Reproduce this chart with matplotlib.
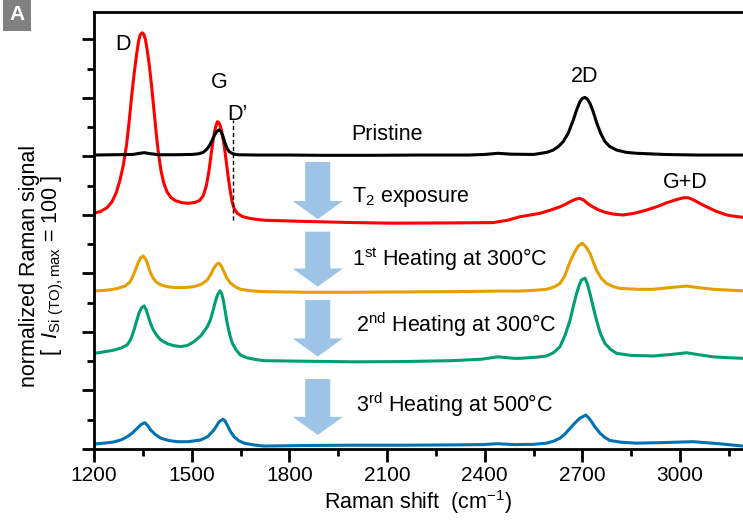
import numpy as np
import matplotlib.pyplot as plt
from matplotlib.patches import FancyArrow

plt.rcParams['font.family'] = ['Liberation Sans', 'DejaVu Sans']
plt.rcParams['mathtext.fontset'] = 'custom'
plt.rcParams['mathtext.rm'] = 'Liberation Sans'
plt.rcParams['mathtext.it'] = 'Liberation Sans:italic'
plt.rcParams['mathtext.bf'] = 'Liberation Sans:bold'

# 数据 (Raman shift, 归一化信号 + 偏移)
x_black = [1200, 1260, 1320, 1340, 1355, 1370, 1400, 1450, 1500, 1520, 1535, 1545, 1555, 1563, 1570, 1577,
           1584, 1590, 1596, 1602, 1608, 1615, 1625, 1640, 1700, 1800, 1900, 2050, 2200, 2350, 2400,
           2440, 2480, 2550, 2590, 2610, 2626, 2641, 2656, 2672, 2682, 2692, 2700, 2708, 2715, 2723,
           2733, 2744, 2756, 2769, 2784, 2805, 2835, 2866, 2950, 3050, 3193]
y_black = [100.5, 100.6, 100.7, 101.1, 101.3, 101.0, 100.6, 100.6, 100.7, 100.9, 101.4, 102.3, 103.8, 105.6, 107.3, 108.6,
           109.1, 108.5, 106.9, 104.7, 102.9, 101.7, 101.0, 100.6, 100.5, 100.5, 100.4, 100.4, 100.5, 100.5, 100.7,
           101.1, 100.8, 100.7, 101.4, 102.2, 103.4, 105.1, 107.9, 112.5, 115.9, 118.7, 119.9, 120.2, 119.6, 118.2,
           115.3, 111.4, 107.9, 105.1, 103.4, 102.2, 101.4, 101.1, 100.7, 100.5, 100.5]

x_red = [1200, 1220, 1240, 1255, 1268, 1280, 1290, 1300, 1308, 1316, 1324, 1331, 1337, 1342, 1348, 1353,
         1358, 1364, 1370, 1377, 1384, 1391, 1398, 1406, 1414, 1424, 1436, 1450, 1470, 1490, 1510, 1525,
         1535, 1545, 1553, 1560, 1567, 1573, 1579, 1584, 1589, 1594, 1600, 1606, 1612, 1618, 1624, 1630,
         1640, 1655, 1680, 1722, 1850, 2000, 2119, 2300, 2425, 2470, 2508, 2540, 2570, 2600, 2631, 2650,
         2665, 2680, 2692, 2705, 2715, 2730, 2750, 2770, 2795, 2825, 2860, 2897, 2930, 2959, 2990, 3010,
         3025, 3040, 3060, 3081, 3110, 3143, 3170, 3193]
y_red = [80.6, 81.2, 82.5, 84.5, 87.5, 92.0, 97.0, 104.0, 112.0, 121.0, 129.0, 135.0, 139.5, 141.6, 142.3, 141.8,
         140.0, 136.0, 131.0, 124.0, 116.0, 108.0, 101.0, 95.0, 91.0, 88.0, 86.0, 84.9, 84.2, 84.0, 84.3, 85.0,
         86.5, 90.0, 95.0, 101.0, 106.5, 110.0, 111.9, 111.5, 110.0, 107.5, 103.5, 98.5, 93.0, 88.5, 84.5, 82.3,
         80.6, 79.5, 78.8, 78.2, 77.8, 77.4, 77.2, 77.3, 77.4, 78.2, 79.4, 80.0, 80.6, 81.6, 82.8, 83.8,
         84.7, 85.4, 85.7, 85.0, 84.0, 82.9, 81.7, 80.9, 80.3, 80.0, 80.6, 81.7, 82.9, 84.2, 85.3, 85.9,
         85.9, 85.2, 84.0, 82.8, 81.3, 80.0, 79.5, 79.2]

x_orange = [1200, 1240, 1270, 1295, 1310, 1320, 1328, 1335, 1342, 1351, 1358, 1364, 1371, 1379, 1390, 1405,
            1425, 1446, 1480, 1507, 1530, 1548, 1560, 1568, 1577, 1584, 1591, 1599, 1608, 1620, 1635, 1650,
            1680, 1722, 1850, 2000, 2150, 2300, 2450, 2508, 2560, 2590, 2615, 2631, 2645, 2656, 2667, 2677,
            2688, 2700, 2710, 2723, 2733, 2743, 2757, 2774, 2795, 2815, 2870, 2917, 2970, 3020, 3060, 3102,
            3150, 3193]
y_orange = [54.0, 54.3, 54.8, 55.7, 57.0, 59.2, 61.5, 63.5, 65.2, 66.0, 65.0, 63.5, 61.0, 58.9, 57.2, 56.1,
            55.5, 55.2, 55.2, 55.5, 56.3, 57.8, 60.0, 61.8, 63.2, 63.5, 62.5, 60.6, 58.4, 56.6, 55.4, 54.6,
            54.1, 53.8, 53.6, 53.6, 53.7, 53.8, 54.0, 54.0, 54.3, 54.6, 55.5, 56.6, 59.0, 62.3, 65.3, 67.5,
            69.5, 70.3, 69.2, 66.9, 64.0, 61.2, 58.5, 56.6, 55.5, 54.9, 54.6, 54.6, 55.2, 55.7, 55.1, 54.6,
            54.3, 54.1]

x_green = [1200, 1230, 1261, 1285, 1302, 1313, 1323, 1331, 1338, 1346, 1354, 1360, 1367, 1374, 1382, 1393,
           1405, 1425, 1446, 1466, 1487, 1507, 1528, 1548, 1558, 1566, 1573, 1579, 1587, 1592, 1597, 1603,
           1609, 1617, 1625, 1637, 1650, 1670, 1691, 1722, 1850, 2000, 2150, 2300, 2390, 2440, 2490, 2508,
           2560, 2590, 2612, 2631, 2647, 2662, 2672, 2682, 2690, 2697, 2708, 2715, 2723, 2733, 2743, 2755,
           2769, 2787, 2805, 2850, 2917, 2970, 3020, 3060, 3102, 3150, 3193]
y_green = [32.7, 33.2, 33.8, 34.6, 35.6, 37.5, 40.7, 43.8, 46.4, 48.3, 48.9, 47.6, 45.2, 42.8, 40.7, 38.8,
           37.3, 36.0, 35.3, 35.0, 35.4, 36.7, 38.7, 41.8, 44.3, 47.5, 50.5, 52.6, 54.1, 53.2, 50.9, 47.0,
           43.0, 39.0, 36.1, 33.8, 32.1, 31.2, 30.7, 30.2, 30.0, 29.8, 29.9, 30.2, 30.7, 31.5, 31.0, 31.0,
           31.4, 31.8, 33.0, 35.0, 39.0, 44.1, 48.8, 53.2, 56.0, 57.8, 58.4, 56.5, 53.2, 48.5, 44.1, 39.5,
           36.1, 34.0, 32.7, 32.0, 31.8, 32.3, 32.9, 32.2, 31.5, 31.2, 31.0]

x_blue = [1200, 1230, 1261, 1285, 1302, 1318, 1333, 1345, 1356, 1365, 1374, 1388, 1405, 1430, 1456, 1490,
          1528, 1550, 1568, 1577, 1584, 1596, 1603, 1609, 1619, 1630, 1645, 1661, 1690, 1722, 1850, 2000,
          2150, 2300, 2390, 2440, 2490, 2550, 2590, 2612, 2631, 2647, 2662, 2677, 2692, 2710, 2719, 2728, 2740,
          2754, 2768, 2784, 2820, 2866, 2950, 3040, 3120, 3193]
y_blue = [1.7, 2.0, 2.4, 3.2, 4.2, 5.5, 7.1, 8.4, 9.0, 8.0, 6.5, 5.0, 3.7, 2.9, 2.5, 2.5,
          3.1, 4.3, 6.5, 8.0, 9.3, 10.2, 9.5, 8.2, 6.0, 4.2, 2.8, 2.0, 1.4, 1.0, 1.2, 1.3,
          1.3, 1.4, 1.5, 1.8, 1.5, 1.6, 2.0, 2.7, 3.7, 5.2, 7.1, 8.9, 10.5, 11.6, 10.7, 9.3, 7.3,
          5.4, 4.0, 2.9, 2.3, 2.0, 2.2, 2.5, 1.8, 1.0]

x_ticks = [1200, 1500, 1800, 2100, 2400, 2700, 3000]


def plot_spectra():
    fig = plt.figure(figsize=(7.43, 5.24), dpi=100)
    ax = fig.add_axes([94 / 743, 75 / 524, 649 / 743, 437 / 524])

    lw = 2.2
    ax.plot(x_black, y_black, color='black', lw=lw, zorder=3)
    ax.plot(x_red, y_red, color='#FF0000', lw=lw, zorder=2)
    ax.plot(x_orange, y_orange, color='#E69F00', lw=lw)
    ax.plot(x_green, y_green, color='#009E73', lw=lw)
    ax.plot(x_blue, y_blue, color='#0072B2', lw=lw)

    # D' 虚线
    ax.plot([1627, 1627], [78.3, 112.5], color='black', lw=1.0, ls=(0, (3, 2)))

    # 箭头
    arrows = [(98.1, 78.6), (74.3, 55.5), (50.9, 31.6), (23.9, 4.8)]
    for y0, y1 in arrows:
        ax.add_patch(FancyArrow(1887, y0, 0, y1 - y0, width=77, head_width=154,
                                head_length=6.2, length_includes_head=True,
                                color='#9DC3E6', lw=0, zorder=1))

    fs = 15.5
    ax.text(1289, 136.4, 'D', fontsize=fs, ha='center', va='baseline')
    ax.text(1584, 123.4, 'G', fontsize=fs, ha='center', va='baseline')
    ax.text(1639, 112.5, 'D\u2019', fontsize=fs, ha='center', va='baseline')
    ax.text(2708, 125.6, '2D', fontsize=fs, ha='center', va='baseline')
    ax.text(3015, 89.1, 'G+D', fontsize=fs, ha='center', va='baseline')
    ax.text(1991, 105.6, 'Pristine', fontsize=fs, ha='left', va='baseline')
    ax.text(1991, 84.5, r'T$_2$ exposure', fontsize=fs, ha='left', va='baseline')
    ax.text(1991, 62.6, r'1$^{\rm st}$ Heating at 300°C', fontsize=fs, ha='left', va='baseline')
    ax.text(2004, 40.1, r'2$^{\rm nd}$ Heating at 300°C', fontsize=fs, ha='left', va='baseline')
    ax.text(2004, 12.8, r'3$^{\rm rd}$ Heating at 500°C', fontsize=fs, ha='left', va='baseline')

    ax.set_xlim(1200, 3193)
    ax.set_ylim(0, 149.4)
    ax.set_xticks(x_ticks)
    ax.set_xticks(np.arange(1350, 3200, 300), minor=True)
    ax.set_yticks(np.arange(0, 141, 20))
    ax.set_yticks(np.arange(10, 141, 20), minor=True)
    ax.set_yticklabels([])
    ax.tick_params(which='major', length=9, width=2, labelsize=15, direction='out')
    ax.tick_params(which='minor', length=5, width=2, direction='out')
    ax.spines['right'].set_visible(False)
    for s in ['left', 'bottom', 'top']:
        ax.spines[s].set_linewidth(2)

    ax.set_xlabel(r'Raman shift  (cm$^{-1}$)', fontsize=15.5, labelpad=2)
    ax.set_ylabel('normalized Raman signal\n' + r'[ $\ \mathit{I}_{\rm Si\ (TO),max}$ = 100 ]',
                  fontsize=15.5, linespacing=1.0)
    ax.yaxis.set_label_coords(-0.043, 0.42)

    # 面板标签
    fig.text(17 / 743, 1 - 15 / 524, 'A', color='white', fontsize=15, fontweight='bold',
             ha='center', va='center',
             bbox=dict(boxstyle='square,pad=0.3', fc='#808080', ec='none'))

    fig.savefig('out.png', dpi=100)


if __name__ == '__main__':
    plot_spectra()
